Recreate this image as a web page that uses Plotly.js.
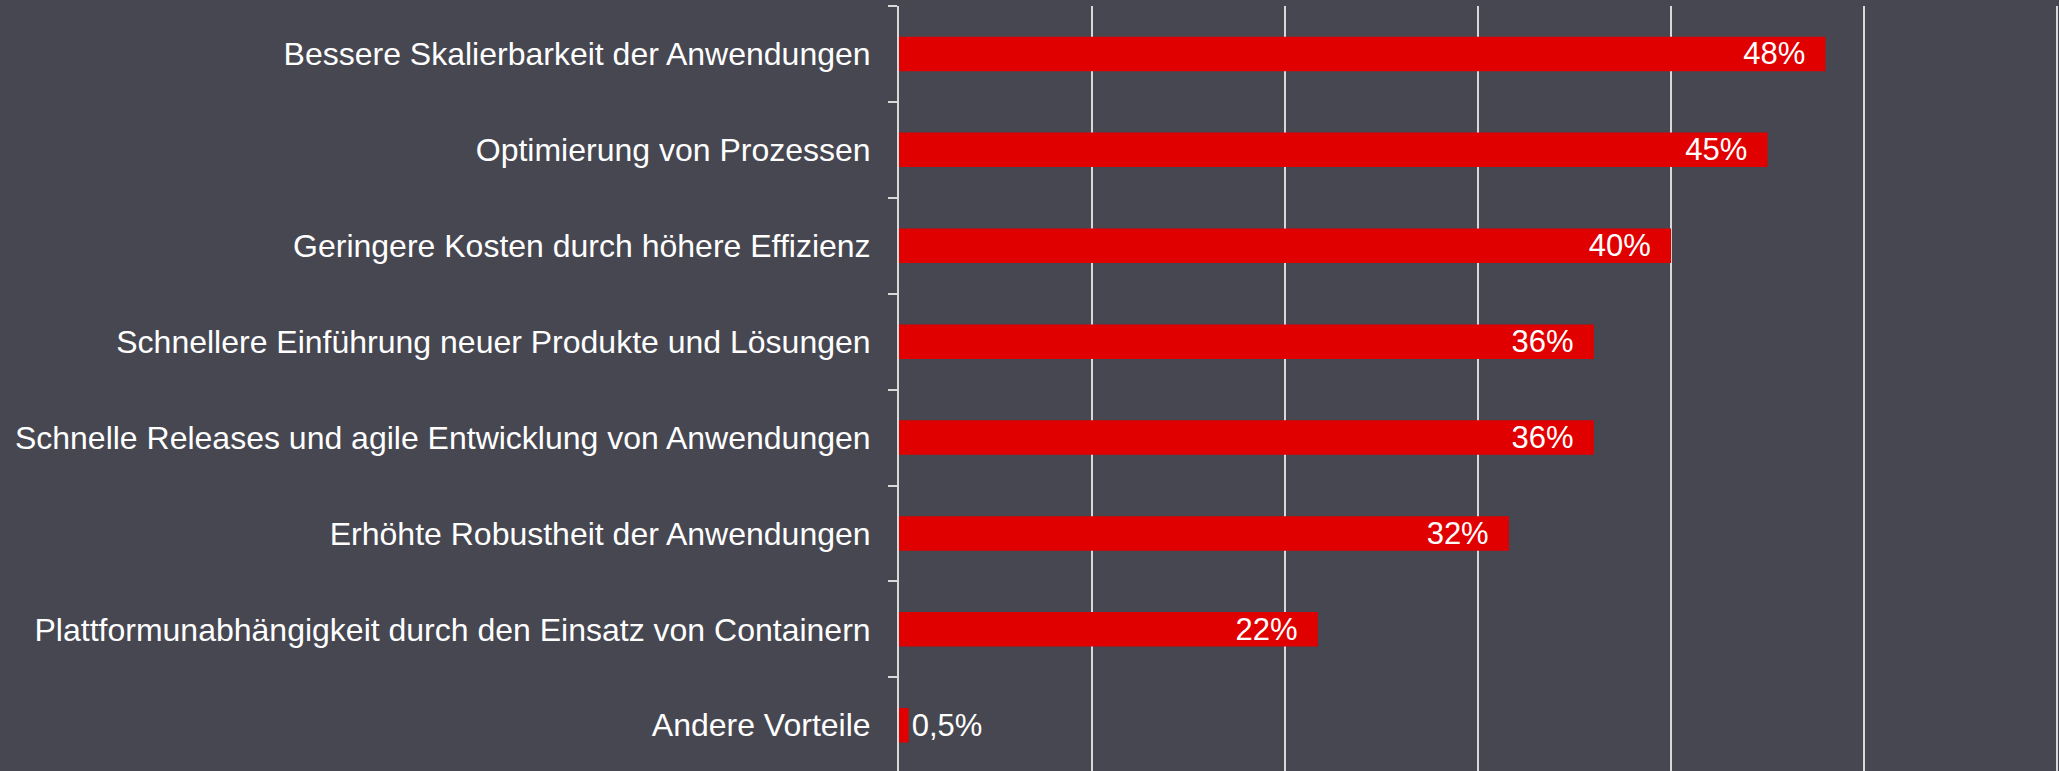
<!DOCTYPE html>
<html>
<head>
<meta charset="utf-8">
<script src="https://cdn.plot.ly/plotly-3.0.1.min.js"></script>
<style>
html,body{margin:0;padding:0;background:#474751;}
#chart{width:2059px;height:771px;}
</style>
</head>
<body>
<div id="chart"></div>
<script>
const categories = [
  "Bessere Skalierbarkeit der Anwendungen",
  "Optimierung von Prozessen",
  "Geringere Kosten durch höhere Effizienz",
  "Schnellere Einführung neuer Produkte und Lösungen",
  "Schnelle Releases und agile Entwicklung von Anwendungen",
  "Erhöhte Robustheit der Anwendungen",
  "Plattformunabhängigkeit durch den Einsatz von Containern",
  "Andere Vorteile"
];
const values = [48, 45, 40, 36, 36, 31.6, 21.7, 0.5];
const valueLabels = ["48%", "45%", "40%", "36%", "36%", "32%", "22%", "0,5%"];
const xTicks = [0, 10, 20, 30, 40, 50, 60];

const trace = {
  type: "bar",
  orientation: "h",
  y: categories,
  x: values,
  text: valueLabels,
  width: 0.36,
  marker: {color: "#e00000", line: {width: 0}},
  texttemplate: "%{text}\u00a0\u00a0",
  textposition: "auto",
  insidetextanchor: "end",
  constraintext: "none",
  cliponaxis: false,
  insidetextfont: {color: "#ffffff", size: 31, family: "Liberation Sans, Arial, sans-serif"},
  outsidetextfont: {color: "#ffffff", size: 31, family: "Liberation Sans, Arial, sans-serif"},
  hoverinfo: "none"
};

const layout = {
  width: 2059,
  height: 771,
  margin: {l: 899, r: 0, t: 6, b: 0, pad: 0},
  paper_bgcolor: "#474751",
  plot_bgcolor: "#474751",
  showlegend: false,
  font: {family: "Liberation Sans, Arial, sans-serif", color: "#ffffff", size: 32},
  xaxis: {
    range: [0, 60.1],
    tickvals: xTicks,
    showticklabels: false,
    showgrid: true,
    gridcolor: "#d9d9d9",
    gridwidth: 2,
    zeroline: false,
    showline: false,
    ticks: "",
    fixedrange: true
  },
  yaxis: {
    type: "category",
    categoryorder: "array",
    categoryarray: categories,
    range: [7.477, -0.5],
    showgrid: false,
    zeroline: false,
    showline: true,
    linecolor: "#d9d9d9",
    linewidth: 2,
    ticks: "outside",
    tickson: "boundaries",
    ticklen: 9,
    tickwidth: 2,
    tickcolor: "#d9d9d9",
    ticklabelstandoff: 20,
    tickfont: {color: "#ffffff", size: 32, family: "Liberation Sans, Arial, sans-serif"},
    fixedrange: true
  },
  bargap: 0.64
};

Plotly.newPlot("chart", [trace], layout, {displayModeBar: false, staticPlot: true});
</script>
</body>
</html>
